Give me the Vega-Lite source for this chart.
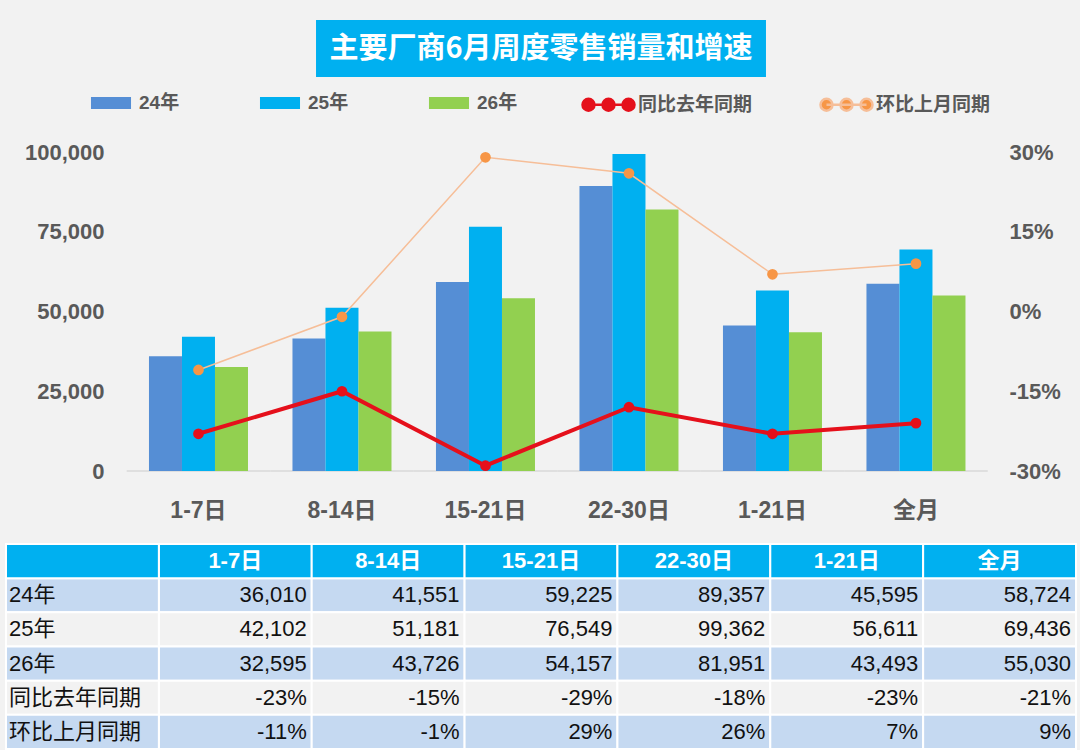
{
  "$schema": "https://vega.github.io/schema/vega-lite/v6.json",
  "background": "#f2f2f2",
  "padding": {"left": 5, "right": 5, "top": 20, "bottom": 0},
  "config": {
    "font": "Liberation Sans, Noto Sans CJK SC",
    "locale": {
      "number": {"decimal": ".", "thousands": ",", "grouping": [3], "currency": ["", ""], "minus": "-"}
    },
    "view": {"stroke": null},
    "axis": {
      "grid": false,
      "ticks": false,
      "domain": false,
      "title": null,
      "labelFont": "Liberation Sans, Noto Sans CJK SC",
      "labelFontWeight": "bold",
      "labelFontSize": 22,
      "labelColor": "#595959"
    },
    "legend": {
      "title": null,
      "orient": "none",
      "direction": "horizontal",
      "padding": 0,
      "columnPadding": 74,
      "labelFont": "Liberation Sans, Noto Sans CJK SC",
      "labelFontSize": 19,
      "labelFontWeight": "bold",
      "labelColor": "#595959",
      "labelOffset": 2,
      "symbolSize": 2704,
      "symbolOpacity": 1
    }
  },
  "datasets": {
    "cells": [
      {"period": "1-7日", "series": "24年", "value": 36010},
      {"period": "1-7日", "series": "25年", "value": 42102},
      {"period": "1-7日", "series": "26年", "value": 32595},
      {"period": "8-14日", "series": "24年", "value": 41551},
      {"period": "8-14日", "series": "25年", "value": 51181},
      {"period": "8-14日", "series": "26年", "value": 43726},
      {"period": "15-21日", "series": "24年", "value": 59225},
      {"period": "15-21日", "series": "25年", "value": 76549},
      {"period": "15-21日", "series": "26年", "value": 54157},
      {"period": "22-30日", "series": "24年", "value": 89357},
      {"period": "22-30日", "series": "25年", "value": 99362},
      {"period": "22-30日", "series": "26年", "value": 81951},
      {"period": "1-21日", "series": "24年", "value": 45595},
      {"period": "1-21日", "series": "25年", "value": 56611},
      {"period": "1-21日", "series": "26年", "value": 43493},
      {"period": "全月", "series": "24年", "value": 58724},
      {"period": "全月", "series": "25年", "value": 69436},
      {"period": "全月", "series": "26年", "value": 55030},
      {"period": "1-7日", "series": "同比去年同期", "value": -0.23},
      {"period": "8-14日", "series": "同比去年同期", "value": -0.15},
      {"period": "15-21日", "series": "同比去年同期", "value": -0.29},
      {"period": "22-30日", "series": "同比去年同期", "value": -0.18},
      {"period": "1-21日", "series": "同比去年同期", "value": -0.23},
      {"period": "全月", "series": "同比去年同期", "value": -0.21},
      {"period": "1-7日", "series": "环比上月同期", "value": -0.11},
      {"period": "8-14日", "series": "环比上月同期", "value": -0.01},
      {"period": "15-21日", "series": "环比上月同期", "value": 0.29},
      {"period": "22-30日", "series": "环比上月同期", "value": 0.26},
      {"period": "1-21日", "series": "环比上月同期", "value": 0.07},
      {"period": "全月", "series": "环比上月同期", "value": 0.09}
    ]
  },
  "spacing": 0,
  "resolve": {"scale": {"color": "independent", "fill": "independent", "stroke": "independent", "x": "independent"}},
  "vconcat": [
    {
      "width": 1070,
      "height": 57,
      "data": {"values": [{"t": "主要厂商6月周度零售销量和增速"}]},
      "encoding": {
        "x": {"field": "t", "type": "nominal", "scale": {"paddingInner": 0, "paddingOuter": 0.689}, "axis": null}
      },
      "layer": [
        {"mark": {"type": "rect", "color": "#00b0f0"}},
        {
          "mark": {"type": "text", "color": "white", "font": "Noto Sans CJK SC", "fontSize": 29, "fontWeight": "bold", "align": "center", "baseline": "middle"},
          "encoding": {"text": {"field": "t"}}
        }
      ]
    },
    {
      "width": 1070,
      "height": 319,
      "data": {"name": "cells"},
      "encoding": {
        "x": {
          "field": "period",
          "type": "nominal",
          "sort": ["1-7日", "8-14日", "15-21日", "22-30日", "1-21日", "全月"],
          "scale": {"paddingInner": 0.31, "paddingOuter": 0.8833, "align": 0.564},
          "axis": {"labelAngle": 0, "labelPadding": 28, "labelFontSize": 23, "minExtent": 72}
        }
      },
      "layer": [
        {
          "transform": [{"filter": {"field": "series", "oneOf": ["24年", "25年", "26年"]}}],
          "encoding": {
            "y": {
              "field": "value",
              "type": "quantitative",
              "scale": {"domain": [0, 100000], "nice": false},
              "axis": {"values": [0, 25000, 50000, 75000, 100000], "format": ",.0f", "labelPadding": 23, "offset": -121}
            }
          },
          "layer": [
            {
              "transform": [{"filter": "datum.series == '24年'"}],
              "mark": {"type": "tick", "color": "#d9d9d9", "size": 143.5, "thickness": 1.5, "opacity": 1},
              "encoding": {"y": {"datum": 0, "type": "quantitative"}}
            },
            {
              "mark": {"type": "bar"},
              "encoding": {
                "xOffset": {"field": "series", "type": "nominal", "scale": {"domain": ["24年", "25年", "26年"], "paddingInner": 0}},
                "color": {
                  "field": "series",
                  "type": "nominal",
                  "scale": {"domain": ["24年", "25年", "26年"], "range": ["#558ed5", "#00b0f0", "#92d050"]},
                  "legend": {
                    "legendX": 79,
                    "legendY": -75,
                    "columns": 3,
                    "symbolType": "M-0.77,-0.23H0.77V0.23H-0.77Z",
                    "symbolStrokeWidth": 0
                  }
                }
              }
            }
          ]
        },
        {
          "transform": [{"filter": {"field": "series", "oneOf": ["同比去年同期", "环比上月同期"]}}],
          "encoding": {
            "y": {
              "field": "value",
              "type": "quantitative",
              "scale": {"domain": [-0.3, 0.3], "nice": false},
              "axis": {"orient": "right", "values": [-0.3, -0.15, 0, 0.15, 0.3], "format": ".0%", "labelPadding": 21, "offset": -88}
            }
          },
          "layer": [
            {
              "mark": {"type": "line"},
              "encoding": {
                "stroke": {
                  "field": "series",
                  "type": "nominal",
                  "scale": {"domain": ["同比去年同期", "环比上月同期"], "range": ["#e5101b", "#f6be98"]},
                  "legend": {
                    "legendX": 575,
                    "legendY": -75,
                    "columns": 2,
                    "columnPadding": 62,
                    "symbolType": "M-0.77,0H0.77M-1,0a0.23,0.23 0 1,0 0.46,0a0.23,0.23 0 1,0 -0.46,0M-0.23,0a0.23,0.23 0 1,0 0.46,0a0.23,0.23 0 1,0 -0.46,0M0.54,0a0.23,0.23 0 1,0 0.46,0a0.23,0.23 0 1,0 -0.46,0",
                    "symbolStrokeWidth": 2.5
                  }
                },
                "strokeWidth": {
                  "field": "series",
                  "type": "nominal",
                  "scale": {"domain": ["同比去年同期", "环比上月同期"], "range": [4, 1.5]},
                  "legend": null
                }
              }
            },
            {
              "mark": {"type": "point", "filled": true, "size": 115, "opacity": 1},
              "encoding": {
                "fill": {
                  "field": "series",
                  "type": "nominal",
                  "scale": {"domain": ["同比去年同期", "环比上月同期"], "range": ["#e5101b", "#f79646"]},
                  "legend": {
                    "legendX": 575,
                    "legendY": -75,
                    "columns": 2,
                    "columnPadding": 62,
                    "symbolType": "M-0.77,0H0.77M-1,0a0.23,0.23 0 1,0 0.46,0a0.23,0.23 0 1,0 -0.46,0M-0.23,0a0.23,0.23 0 1,0 0.46,0a0.23,0.23 0 1,0 -0.46,0M0.54,0a0.23,0.23 0 1,0 0.46,0a0.23,0.23 0 1,0 -0.46,0",
                    "symbolStrokeWidth": 2.5
                  }
                }
              }
            }
          ]
        }
      ],
      "resolve": {"scale": {"y": "independent"}}
    },
    {
      "width": 1070,
      "height": 205,
      "data": {"name": "cells"},
      "encoding": {
        "x": {
          "field": "period",
          "type": "nominal",
          "scale": {"domain": ["row", "1-7日", "8-14日", "15-21日", "22-30日", "1-21日", "全月"], "paddingInner": 0, "paddingOuter": 0},
          "axis": null
        },
        "y": {
          "field": "series",
          "type": "nominal",
          "scale": {"domain": ["head", "24年", "25年", "26年", "同比去年同期", "环比上月同期"], "paddingInner": 0, "paddingOuter": 0},
          "axis": null
        }
      },
      "layer": [
        {
          "mark": {"type": "rect", "stroke": "white", "strokeWidth": 2},
          "encoding": {
            "fill": {
              "field": "series",
              "type": "nominal",
              "scale": {
                "domain": ["24年", "25年", "26年", "同比去年同期", "环比上月同期"],
                "range": ["#c5d9f1", "#f2f2f2", "#c5d9f1", "#f2f2f2", "#c5d9f1"]
              },
              "legend": null
            }
          }
        },
        {
          "transform": [{"filter": "datum.period == '1-7日'"}],
          "mark": {"type": "rect", "stroke": "white", "strokeWidth": 2},
          "encoding": {
            "x": {"datum": "row", "type": "nominal"},
            "fill": {"field": "series", "type": "nominal", "legend": null}
          }
        },
        {
          "transform": [{"filter": "datum.series == '24年'"}],
          "mark": {"type": "rect", "stroke": "white", "strokeWidth": 2, "fill": "#00b0f0"},
          "encoding": {
            "y": {"datum": "head", "type": "nominal"}
          }
        },
        {
          "transform": [{"filter": "datum.series == '24年' && datum.period == '1-7日'"}],
          "mark": {"type": "rect", "stroke": "white", "strokeWidth": 2, "fill": "#00b0f0"},
          "encoding": {
            "x": {"datum": "row", "type": "nominal"},
            "y": {"datum": "head", "type": "nominal"}
          }
        },
        {
          "transform": [{"filter": "datum.series == '24年'"}],
          "mark": {"type": "text", "color": "white", "fontSize": 22, "fontWeight": "bold", "align": "center", "baseline": "middle"},
          "encoding": {
            "y": {"datum": "head", "type": "nominal"},
            "text": {"field": "period"}
          }
        },
        {
          "transform": [{"filter": "datum.period == '1-7日'"}],
          "mark": {"type": "text", "color": "#111111", "fontSize": 22, "align": "left", "baseline": "middle", "dx": 3},
          "encoding": {
            "x": {"datum": "row", "type": "nominal", "bandPosition": 0},
            "text": {"field": "series"}
          }
        },
        {
          "transform": [{"filter": {"field": "series", "oneOf": ["24年", "25年", "26年"]}}],
          "mark": {"type": "text", "color": "#111111", "fontSize": 22, "align": "right", "baseline": "middle", "dx": -5},
          "encoding": {
            "x": {"field": "period", "type": "nominal", "bandPosition": 1},
            "text": {"field": "value", "type": "quantitative", "format": ","}
          }
        },
        {
          "transform": [{"filter": {"field": "series", "oneOf": ["同比去年同期", "环比上月同期"]}}],
          "mark": {"type": "text", "color": "#111111", "fontSize": 22, "align": "right", "baseline": "middle", "dx": -5},
          "encoding": {
            "x": {"field": "period", "type": "nominal", "bandPosition": 1},
            "text": {"field": "value", "type": "quantitative", "format": ".0%"}
          }
        }
      ]
    }
  ]
}
